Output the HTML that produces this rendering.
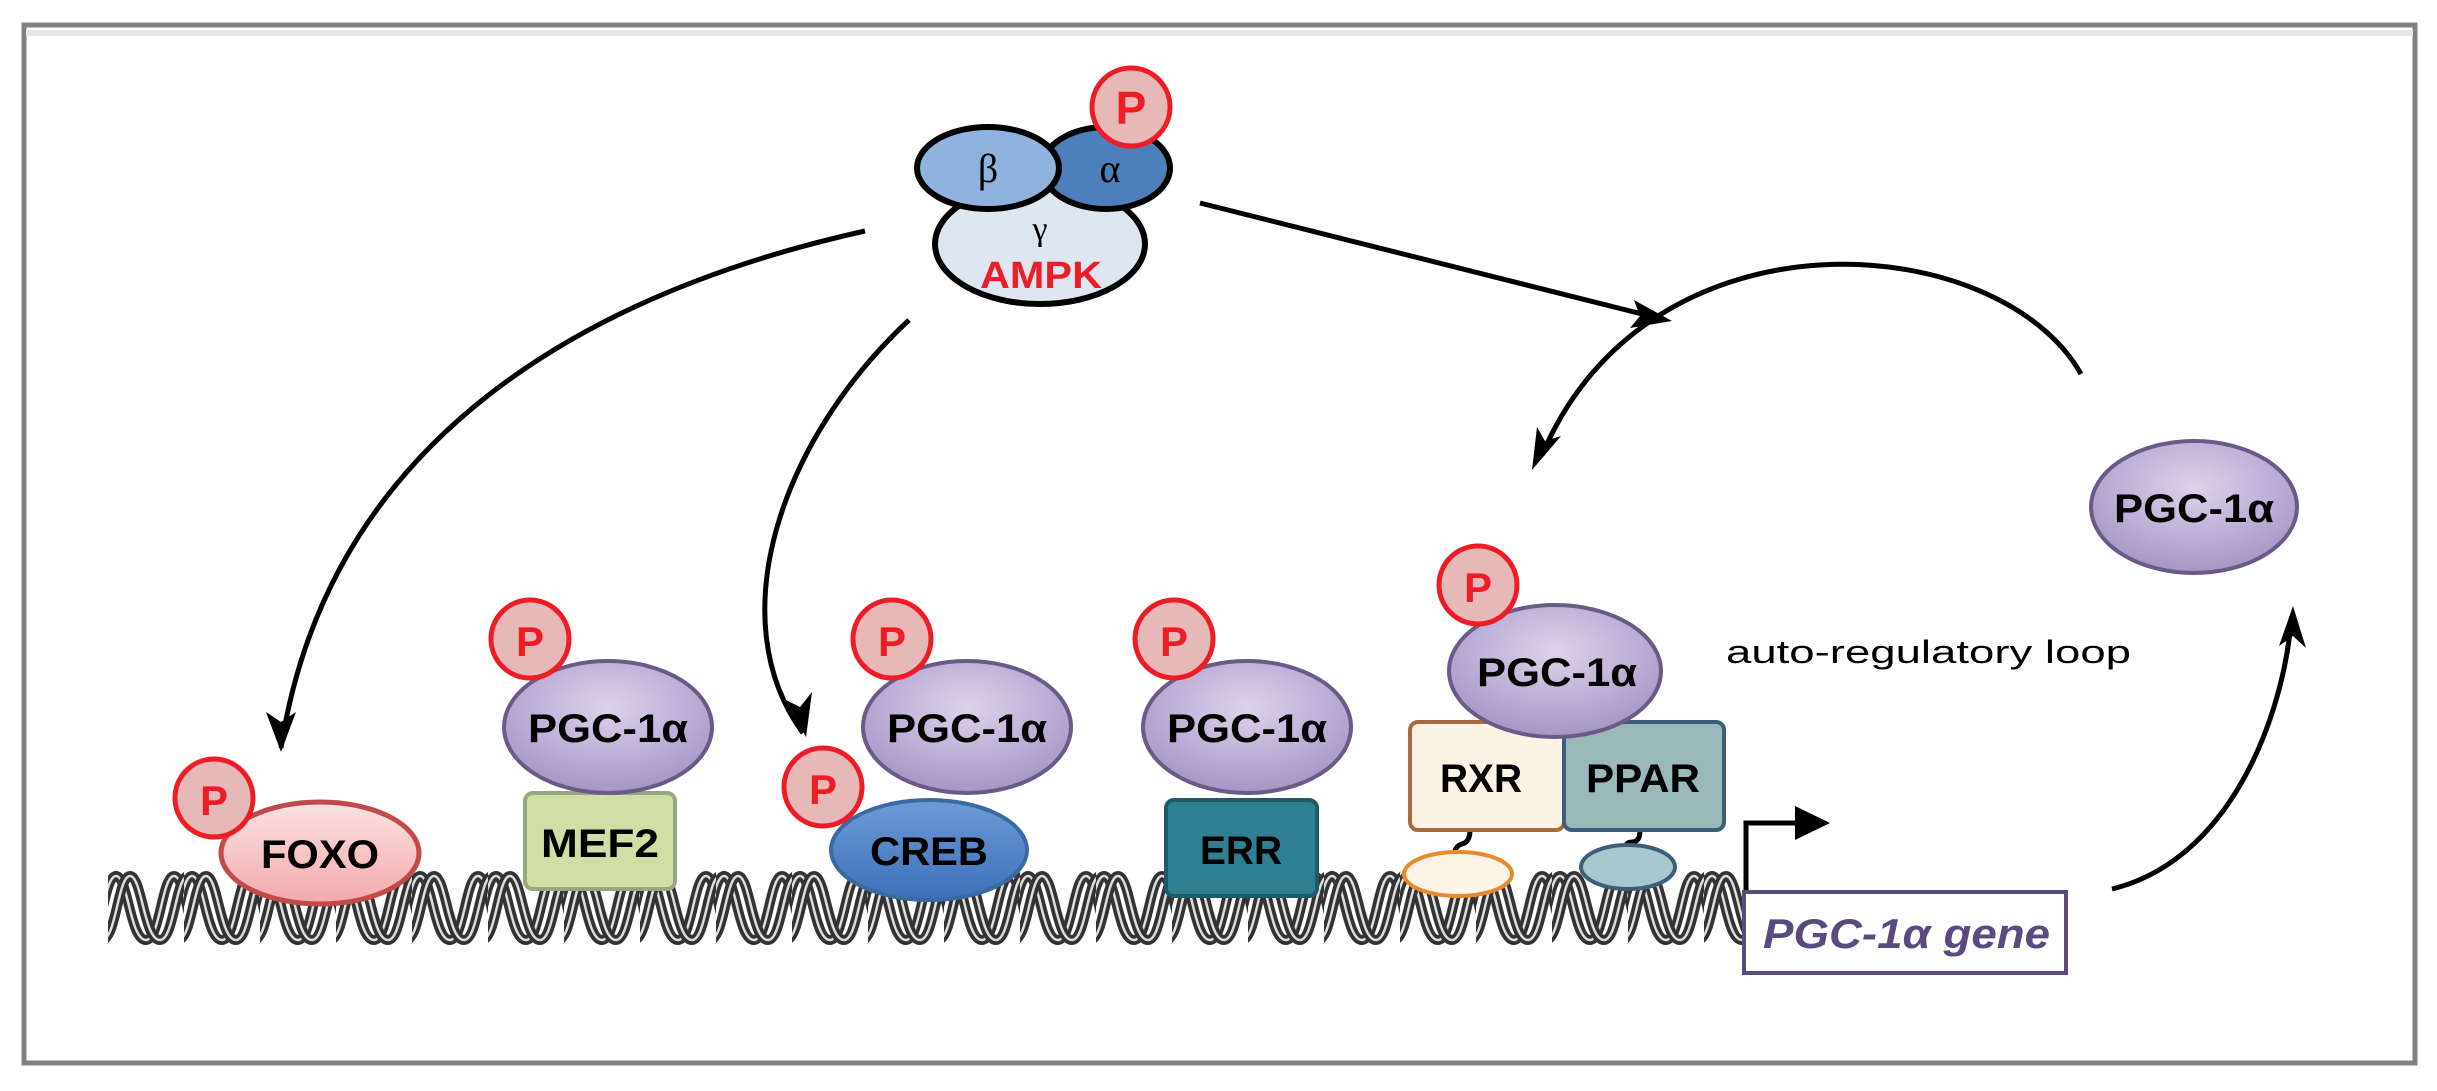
<!DOCTYPE html>
<html><head><meta charset="utf-8"><style>
html,body{margin:0;padding:0;background:#fff}
svg{display:block}
text{font-family:"Liberation Sans",sans-serif}
</style></head><body>
<svg width="2437" height="1091" viewBox="0 0 2437 1091" xmlns="http://www.w3.org/2000/svg">
<defs>
<radialGradient id="pgc" cx="50%" cy="35%" r="65%"><stop offset="0" stop-color="#ddd3ea"/><stop offset="0.6" stop-color="#bcaed6"/><stop offset="1" stop-color="#a595c4"/></radialGradient>
<linearGradient id="foxo" x1="0" y1="0" x2="0" y2="1"><stop offset="0" stop-color="#fbe2e3"/><stop offset="1" stop-color="#f3a9ab"/></linearGradient>
<linearGradient id="creb" x1="0" y1="0" x2="0" y2="1"><stop offset="0" stop-color="#6f9bd8"/><stop offset="1" stop-color="#3c70b8"/></linearGradient>
<pattern id="dna" x="108" y="868" width="76" height="80" patternUnits="userSpaceOnUse">
<path d="M-20,72 C-6,72 -4,8 8,8 C20,8 22,72 38,72 C52,72 54,8 66,8 C78,8 80,72 96,72" fill="none" stroke="#333" stroke-width="10"/>
<path d="M-20,72 C-6,72 -4,8 8,8 C20,8 22,72 38,72 C52,72 54,8 66,8 C78,8 80,72 96,72" fill="none" stroke="#ddd" stroke-width="2.5"/>
<path d="M-6,72 C8,72 10,8 22,8 C34,8 36,72 52,72 C66,72 68,8 80,8" fill="none" stroke="#333" stroke-width="10"/>
<path d="M-6,72 C8,72 10,8 22,8 C34,8 36,72 52,72 C66,72 68,8 80,8" fill="none" stroke="#ddd" stroke-width="2.5"/>
</pattern>
</defs>

<rect x="0" y="0" width="2437" height="1091" fill="#fff"/>
<rect x="24" y="25" width="2391" height="1038" fill="none" stroke="#808080" stroke-width="5"/>
<line x1="26" y1="33" x2="2413" y2="33" stroke="#e6e6e6" stroke-width="6"/>

<!-- DNA -->
<rect x="108" y="866" width="1637" height="84" fill="url(#dna)"/>

<!-- arrows -->
<g fill="none" stroke="#000" stroke-width="5">
<path d="M865,231 C600,290 330,430 281,748"/>
<path d="M909,320 C780,440 720,620 803,733"/>
<path d="M1200,203 L1650,316"/>
<path d="M2081,374 C2000,230 1650,200 1542,455"/>
<path d="M2112,889 C2230,860 2280,720 2290,632"/>
<path d="M1746,890 L1746,823 L1800,823"/>
</g>
<g fill="#000">
<polygon points="281,752 266,712 281,722 296,712"/>
<polygon points="806,737 786,700 800,707 812,692"/>
<polygon points="1672,321 1630,328 1640,316 1634,300"/>
<polygon points="1532,470 1537,427 1545,441 1561,436"/>
<polygon points="2293,606 2306,648 2293,636 2279,646"/>
<polygon points="1830,823 1795,806 1795,840"/>
</g>

<!-- AMPK -->
<ellipse cx="1040" cy="244" rx="105" ry="60" fill="#dde7f2" stroke="#000" stroke-width="6"/>
<ellipse cx="1106" cy="168" rx="64" ry="41" fill="#4d7fba" stroke="#000" stroke-width="6"/>
<ellipse cx="988" cy="168" rx="71" ry="41" fill="#8fb2de" stroke="#000" stroke-width="6"/>
<circle cx="1131" cy="107" r="39" fill="#e6b8b8" stroke="#ee1c25" stroke-width="5"/>
<text x="1131" y="124" text-anchor="middle" font-size="46" font-weight="bold" fill="#ee1c25">P</text>
<text x="988" y="182" text-anchor="middle" font-size="40" style="font-family:'Liberation Serif',serif">β</text>
<text x="1110" y="182" text-anchor="middle" font-size="40" style="font-family:'Liberation Serif',serif">α</text>
<text x="1040" y="240" text-anchor="middle" font-size="34" style="font-family:'Liberation Serif',serif">γ</text>
<text x="1041" y="288" text-anchor="middle" font-size="38" font-weight="bold" fill="#ee1c25" textLength="122" lengthAdjust="spacingAndGlyphs">AMPK</text>

<!-- FOXO -->
<ellipse cx="320" cy="853" rx="99" ry="51" fill="url(#foxo)" stroke="#c24a4a" stroke-width="5"/>
<text x="320" y="868" text-anchor="middle" font-size="40" font-weight="bold" textLength="118" lengthAdjust="spacingAndGlyphs">FOXO</text>
<circle cx="214" cy="798" r="39" fill="#e6b8b8" stroke="#ee1c25" stroke-width="5"/>
<text x="214" y="815" text-anchor="middle" font-size="42" font-weight="bold" fill="#ee1c25">P</text>

<!-- MEF2 -->
<rect x="525" y="793" width="150" height="96" rx="8" fill="#cfe0a4" stroke="#9aa680" stroke-width="4"/>
<text x="600" y="857" text-anchor="middle" font-size="40" font-weight="bold" textLength="118" lengthAdjust="spacingAndGlyphs">MEF2</text>
<ellipse cx="608" cy="727" rx="104" ry="66" fill="url(#pgc)" stroke="#6a5a88" stroke-width="4"/>
<text x="608" y="742" text-anchor="middle" font-size="40" font-weight="bold" textLength="160" lengthAdjust="spacingAndGlyphs">PGC-1α</text>
<circle cx="530" cy="639" r="39" fill="#e6b8b8" stroke="#ee1c25" stroke-width="5"/>
<text x="530" y="656" text-anchor="middle" font-size="42" font-weight="bold" fill="#ee1c25">P</text>

<!-- CREB -->
<ellipse cx="967" cy="727" rx="104" ry="66" fill="url(#pgc)" stroke="#6a5a88" stroke-width="4"/>
<text x="967" y="742" text-anchor="middle" font-size="40" font-weight="bold" textLength="160" lengthAdjust="spacingAndGlyphs">PGC-1α</text>
<circle cx="892" cy="639" r="39" fill="#e6b8b8" stroke="#ee1c25" stroke-width="5"/>
<text x="892" y="656" text-anchor="middle" font-size="42" font-weight="bold" fill="#ee1c25">P</text>
<ellipse cx="929" cy="850" rx="98" ry="50" fill="url(#creb)" stroke="#3a6aa0" stroke-width="4"/>
<text x="929" y="865" text-anchor="middle" font-size="40" font-weight="bold" textLength="118" lengthAdjust="spacingAndGlyphs">CREB</text>
<circle cx="823" cy="787" r="39" fill="#e6b8b8" stroke="#ee1c25" stroke-width="5"/>
<text x="823" y="804" text-anchor="middle" font-size="42" font-weight="bold" fill="#ee1c25">P</text>

<!-- ERR -->
<rect x="1166" y="800" width="151" height="96" rx="8" fill="#2f7f93" stroke="#1d5a6a" stroke-width="4"/>
<text x="1241" y="864" text-anchor="middle" font-size="40" font-weight="bold" textLength="82" lengthAdjust="spacingAndGlyphs">ERR</text>
<ellipse cx="1247" cy="727" rx="104" ry="66" fill="url(#pgc)" stroke="#6a5a88" stroke-width="4"/>
<text x="1247" y="742" text-anchor="middle" font-size="40" font-weight="bold" textLength="160" lengthAdjust="spacingAndGlyphs">PGC-1α</text>
<circle cx="1174" cy="639" r="39" fill="#e6b8b8" stroke="#ee1c25" stroke-width="5"/>
<text x="1174" y="656" text-anchor="middle" font-size="42" font-weight="bold" fill="#ee1c25">P</text>

<!-- RXR / PPAR -->
<path d="M1470,830 q0,12 -8,14 q-8,2 -8,14" fill="none" stroke="#000" stroke-width="5"/>
<path d="M1640,830 q0,12 -8,12 q-8,0 -8,12" fill="none" stroke="#000" stroke-width="5"/>
<ellipse cx="1458" cy="874" rx="54" ry="22" fill="#fdf3e6" stroke="#e88a2c" stroke-width="4"/>
<ellipse cx="1628" cy="867" rx="47" ry="22" fill="#a8c8d0" stroke="#3e5e78" stroke-width="4"/>
<rect x="1410" y="722" width="154" height="108" rx="8" fill="#fdf3e4" stroke="#a86a3a" stroke-width="4"/>
<rect x="1564" y="722" width="160" height="108" rx="8" fill="#9bb8ba" stroke="#3e5e78" stroke-width="4"/>
<text x="1481" y="792" text-anchor="middle" font-size="40" font-weight="bold" textLength="82" lengthAdjust="spacingAndGlyphs">RXR</text>
<text x="1643" y="792" text-anchor="middle" font-size="40" font-weight="bold" textLength="114" lengthAdjust="spacingAndGlyphs">PPAR</text>
<ellipse cx="1555" cy="671" rx="106" ry="66" fill="url(#pgc)" stroke="#6a5a88" stroke-width="4"/>
<text x="1557" y="686" text-anchor="middle" font-size="40" font-weight="bold" textLength="160" lengthAdjust="spacingAndGlyphs">PGC-1α</text>
<circle cx="1478" cy="585" r="39" fill="#e6b8b8" stroke="#ee1c25" stroke-width="5"/>
<text x="1478" y="602" text-anchor="middle" font-size="42" font-weight="bold" fill="#ee1c25">P</text>

<!-- gene -->
<rect x="1744" y="892" width="322" height="81" fill="#fff" stroke="#5a4a80" stroke-width="4"/>
<text x="1763" y="948" font-size="42" font-weight="bold" font-style="italic" fill="#5a4a80" textLength="287" lengthAdjust="spacingAndGlyphs">PGC-1α gene</text>

<text x="1726" y="663" font-size="32" textLength="405" lengthAdjust="spacingAndGlyphs">auto-regulatory loop</text>

<!-- right PGC -->
<ellipse cx="2194" cy="507" rx="103" ry="66" fill="url(#pgc)" stroke="#6a5a88" stroke-width="4"/>
<text x="2194" y="522" text-anchor="middle" font-size="40" font-weight="bold" textLength="160" lengthAdjust="spacingAndGlyphs">PGC-1α</text>
</svg>
</body></html>
